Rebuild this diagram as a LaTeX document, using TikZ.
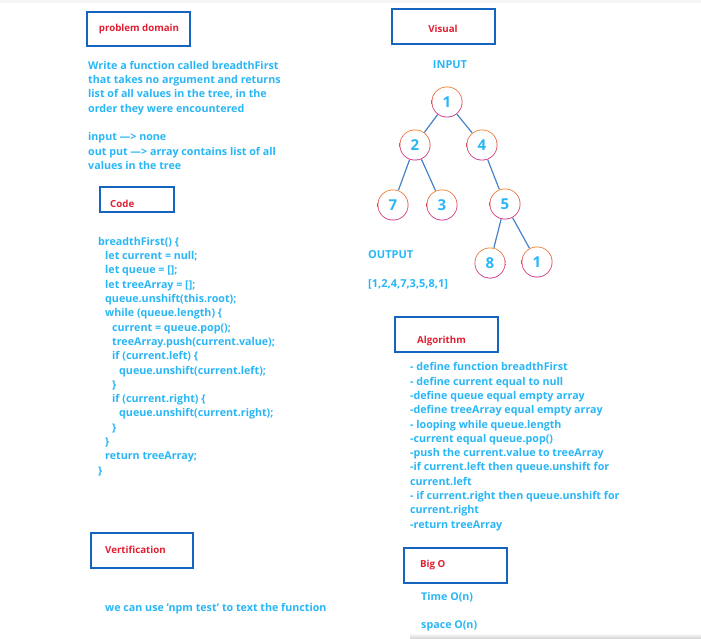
\documentclass[tikz,border=0pt]{standalone}
\usepackage{fontspec}
\setmainfont{Open Sans}
\definecolor{boxblue}{RGB}{21,101,192}
\definecolor{headred}{RGB}{226,30,50}
\definecolor{bodycyan}{RGB}{41,182,246}
\definecolor{edgeblue}{RGB}{70,130,200}
\definecolor{ringtop}{RGB}{240,130,40}
\definecolor{ringbot}{RGB}{200,30,140}
\newcommand{\bodyfont}{\bfseries\fontsize{10.7}{14.3}\selectfont}
\newcommand{\ind}[1]{\hspace*{#1\dimexpr7pt\relax}}
\tikzset{
  hdrbox/.style={draw=boxblue, line width=1.5pt, inner sep=0pt},
  hdr/.style={text=headred, font=\bfseries\fontsize{9.7}{12}\selectfont, inner sep=0pt},
  body/.style={text=bodycyan, font=\bodyfont, inner sep=0pt, align=left},
  small/.style={font=\bfseries\fontsize{11}{13}\selectfont},
  tnode/.style={circle, minimum size=31pt, inner sep=0pt, text=bodycyan,
    font=\bfseries\fontsize{15}{15}\selectfont,
    path picture={
      \shade[top color=ringtop, bottom color=ringbot]
        (path picture bounding box.center) circle (16pt);
      \fill[white] (path picture bounding box.center) circle (14.7pt);
    }},
  tedge/.style={draw=edgeblue, line width=1.2pt}
}
\begin{document}
\begin{tikzpicture}[x=1pt, y=-1pt]
\useasboundingbox (0,0) rectangle (701,639);
% page edge shading
\fill[black!4] (0,0) rectangle (701,3);
\shade[top color=white, bottom color=black!18] (410,633) rectangle (701,639);

% section header boxes
\node[hdrbox, minimum width=103pt, minimum height=34pt] (pdbox) at (138.5,29) {};
\node[hdrbox, minimum width=74pt, minimum height=25pt] (codebox) at (137,199.5) {};
\node[hdrbox, minimum width=103pt, minimum height=35pt] (visbox) at (443.5,26.5) {};
\node[hdrbox, minimum width=103pt, minimum height=35pt] (algbox) at (446.5,334.5) {};
\node[hdrbox, minimum width=102pt, minimum height=35pt] (verbox) at (142,550.5) {};
\node[hdrbox, minimum width=103pt, minimum height=35pt] (bigobox) at (455.5,565.5) {};

% header titles
\node[hdr] (pdtitle) at (139,29) {problem domain};
\node[hdr, anchor=west] (codetitle) at (110,204) {Code};
\node[hdr] (vistitle) at (443,29) {Visual};
\node[hdr, anchor=west] (algtitle) at (417,341) {Algorithm};
\node[hdr, anchor=west] (vertitle) at (105,550) {Vertification};
\node[hdr, anchor=west] (bigotitle) at (420,565) {Big O};

% problem statement
\node[body, anchor=north west] (problem) at (88,61) {%
Write a function called breadthFirst\\
that takes no argument and returns\\
list of all values in the tree, in the\\
order they were encountered\\[14.3pt]
input ---> none\\
out put ---> array contains list of all\\
values in the tree};

% code listing
\node[body, anchor=north west] (code) at (98,237) {%
breadthFirst() \{\\
\ind1let current = null;\\
\ind1let queue = [];\\
\ind1let treeArray = [];\\
\ind1queue.unshift(this.root);\\
\ind1while (queue.length) \{\\
\ind2current = queue.pop();\\
\ind2treeArray.push(current.value);\\
\ind2if (current.left) \{\\
\ind3queue.unshift(current.left);\\
\ind2\}\\
\ind2if (current.right) \{\\
\ind3queue.unshift(current.right);\\
\ind2\}\\
\ind1\}\\
\ind1return treeArray;\\
\}};

% input tree
\node[body, small] (input) at (450,65) {INPUT};
\node[tnode] (n1) at (447,102) {1};
\node[tnode] (n2) at (415,145) {2};
\node[tnode] (n4) at (482,145) {4};
\node[tnode] (n7) at (393,205) {7};
\node[tnode] (n3) at (442,205) {3};
\node[tnode] (n5) at (505,204) {5};
\node[tnode] (n8) at (490,263) {8};
\node[tnode] (n1b) at (537,262) {1};
\draw[tedge] (n1) -- (n2);
\draw[tedge] (n1) -- (n4);
\draw[tedge] (n2) -- (n7);
\draw[tedge] (n2) -- (n3);
\draw[tedge] (n4) -- (n5);
\draw[tedge] (n5) -- (n8);
\draw[tedge] (n5) -- (n1b);

% traversal result
\node[body, small, anchor=west] (output) at (368,255) {OUTPUT};
\node[body, small, anchor=west] (result) at (368,284) {[1,2,4,7,3,5,8,1]};

% algorithm steps
\node[body, anchor=north west] (alg) at (410,362.5) {%
- define function breadthFirst\\
- define current equal to null\\
-define queue equal empty array\\
-define treeArray equal empty array\\
- looping while queue.length\\
-current equal queue.pop()\\
-push the current.value to treeArray\\
-if current.left then queue.unshift for\\
current.left\\
- if current.right then queue.unshift for\\
current.right\\
-return treeArray};

% verification and complexity
\node[body, anchor=west] (vertext) at (105,609) {we can use 'npm test' to text the function};
\node[body, anchor=west] (timeo) at (421,597) {Time O(n)};
\node[body, anchor=west] (spaceo) at (421,626) {space O(n)};
\end{tikzpicture}
\end{document}
